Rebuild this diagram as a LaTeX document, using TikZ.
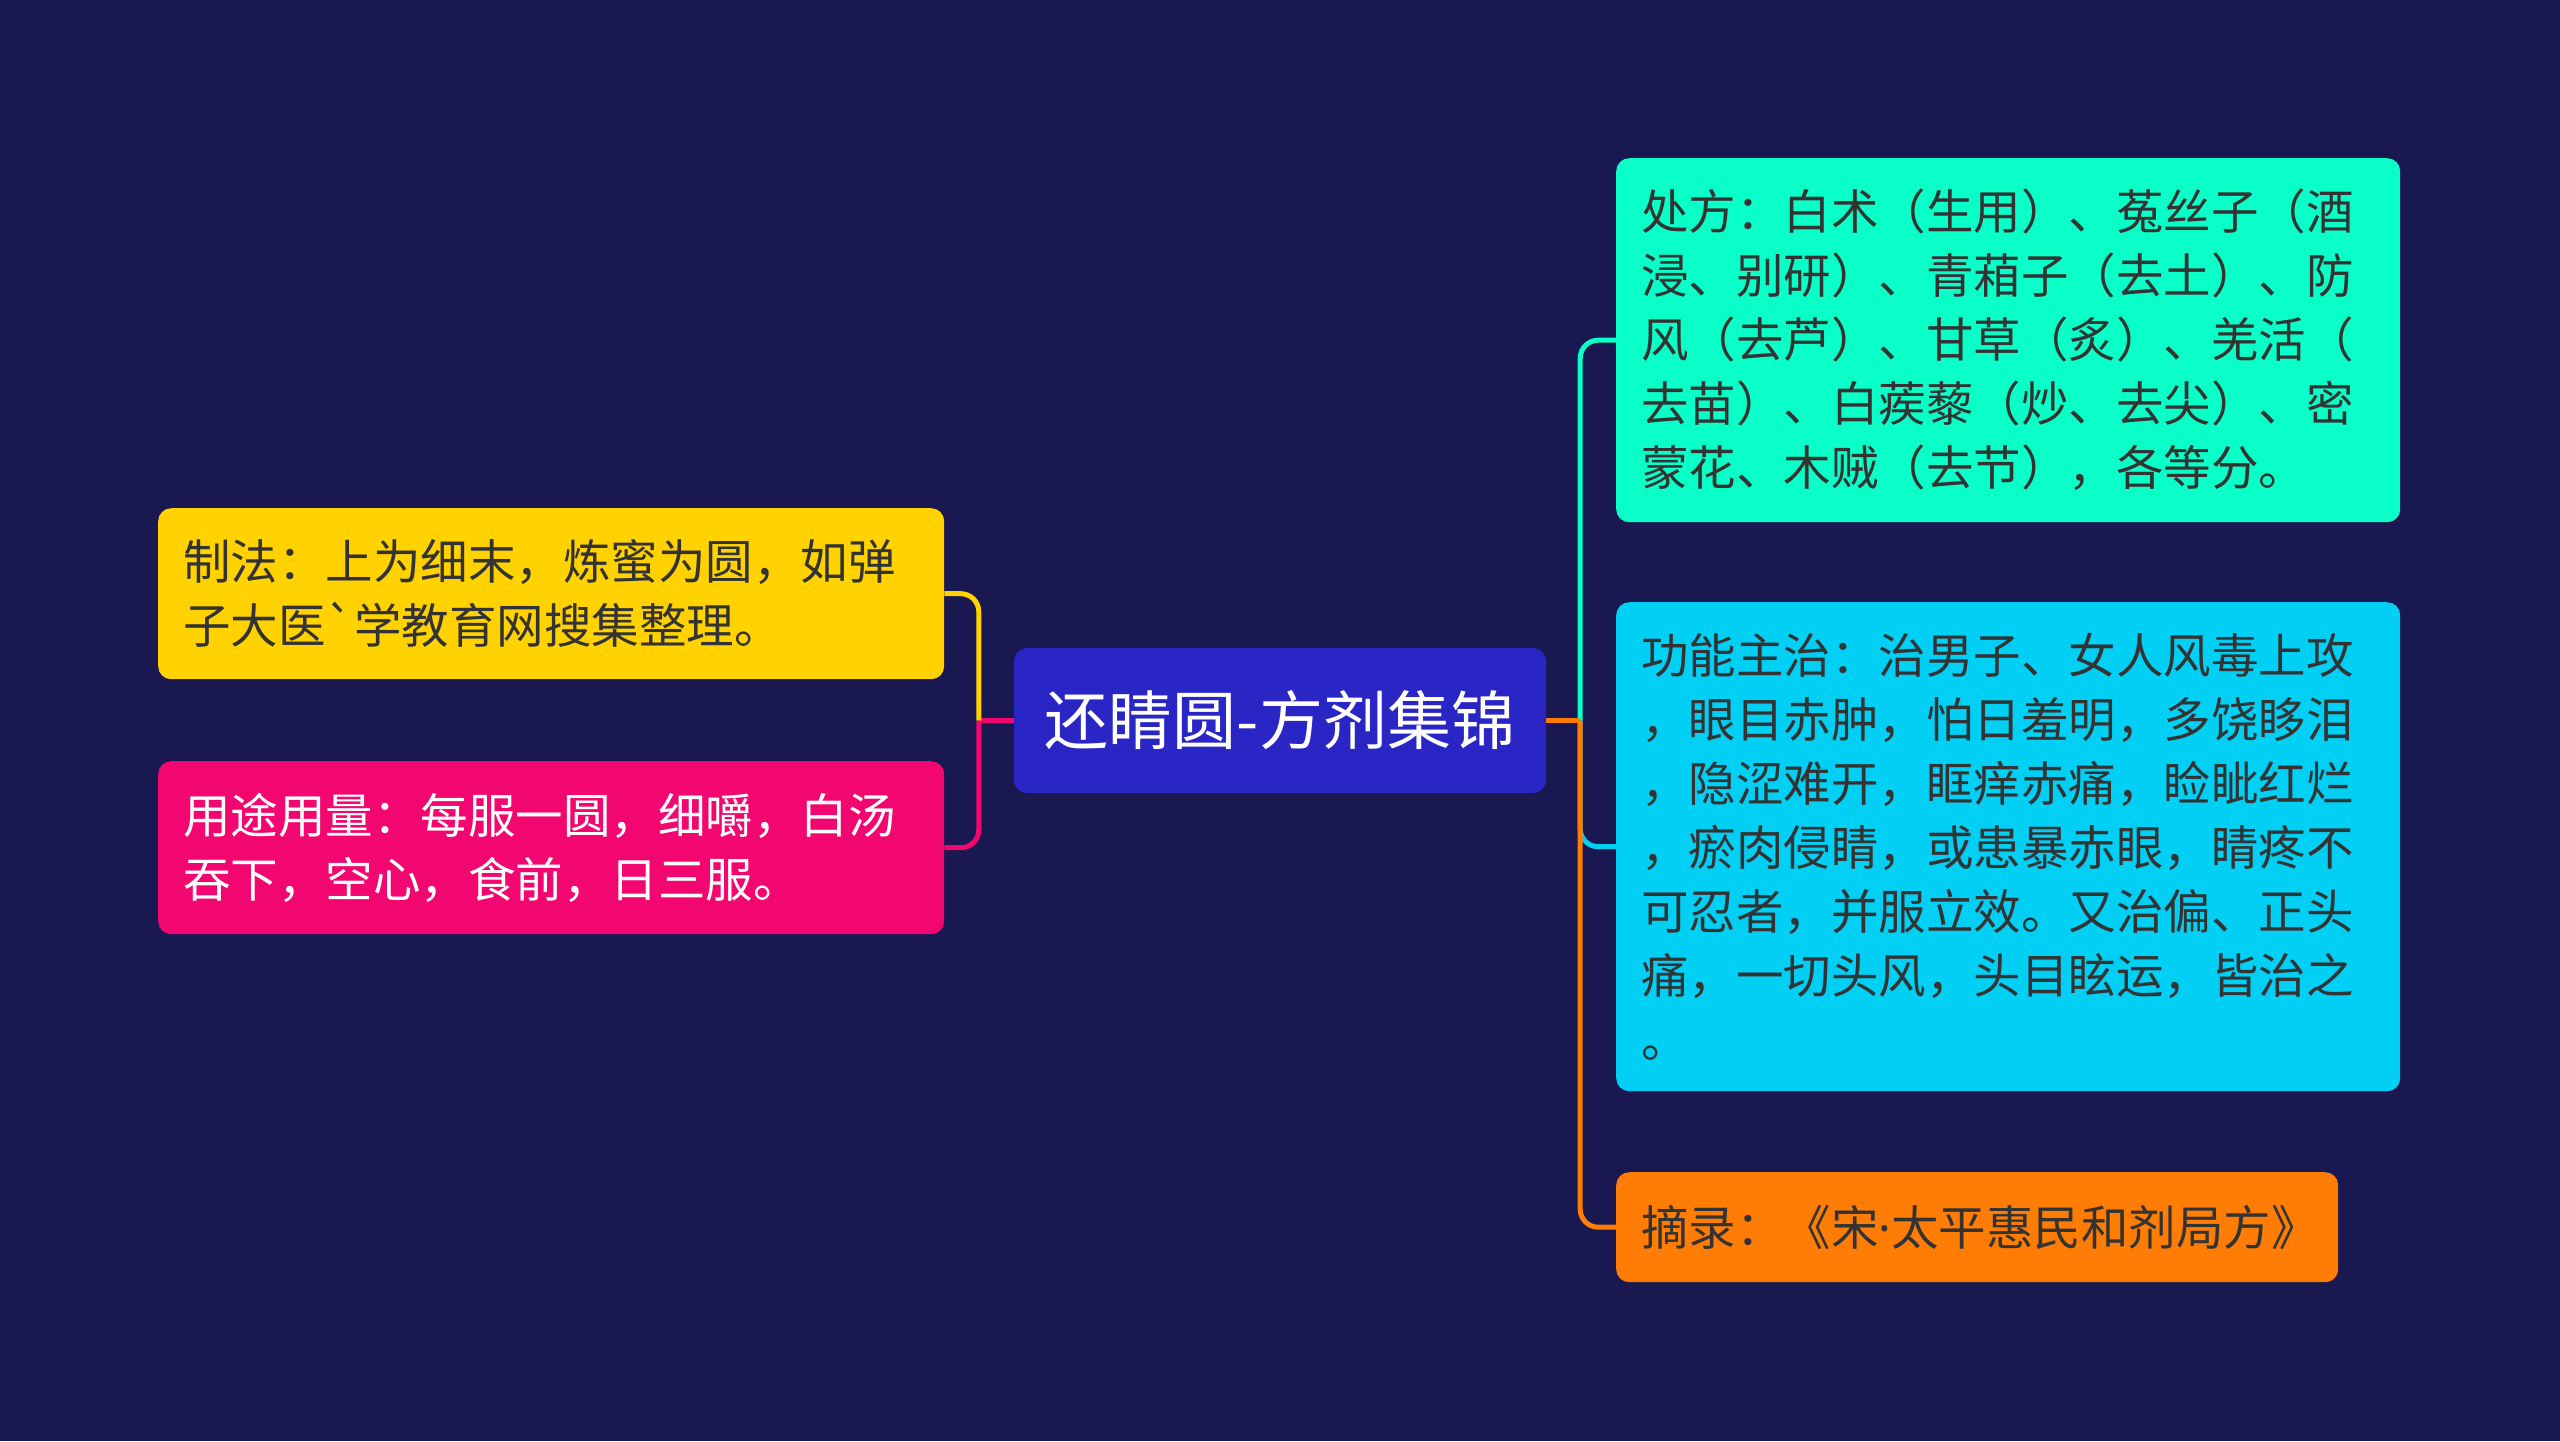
\documentclass[tikz,border=0pt]{standalone}
\usepackage{fontspec}
\setmainfont{Noto Sans CJK SC}
\newfontfamily\latinfont{Noto Sans}
\usetikzlibrary{positioning,calc}
\definecolor{bg}{HTML}{1A1850}
\definecolor{rootfill}{HTML}{2A26C6}
\definecolor{gold}{HTML}{FFD200}
\definecolor{rose}{HTML}{F2066F}
\definecolor{mint}{HTML}{09FFC7}
\definecolor{sky}{HTML}{02CFF4}
\definecolor{amber}{HTML}{FF7D04}
\definecolor{ink}{HTML}{333333}
\tikzset{
  root/.style={fill=rootfill,rounded corners=13pt,minimum width=532pt,minimum height=145pt,
    text=white,font=\fontsize{64}{72}\selectfont,inner sep=0pt},
  leaf/.style={rounded corners=13pt,anchor=north west,align=left,inner xsep=25pt,inner ysep=0pt,
    text=ink,font=\fontsize{47.5}{64}\selectfont},
  branch/.style={line width=5pt,rounded corners=18pt},
}

\begin{document}
\begin{tikzpicture}[x=1pt,y=-1pt]
\fill[bg] (0,0) rectangle (2560,1441);
\useasboundingbox (0,0) rectangle (2560,1441);

% --- root
\node[root] (root) at (1280,720.5) {还睛圆-方剂集锦};

% --- left side
\node[leaf,fill=gold,text width=736pt,minimum height=171pt] (zhifa) at (158,508)
{制法：上为细末，炼蜜为圆，如弹\\子大医\textasciigrave 学教育网搜集整理。};
\node[leaf,fill=rose,text=white,text width=736pt,minimum height=173pt] (yongtu) at (158,761)
{用途用量：每服一圆，细嚼，白汤\\吞下，空心，食前，日三服。};

% --- right side
\node[leaf,fill=mint,text width=734pt,minimum height=364pt] (chufang) at (1616,158)
{处方：白术（生用）、菟丝子（酒\\浸、别研）、青葙子（去土）、防\\风（去芦）、甘草（炙）、羌活（\\去苗）、白蒺藜（炒、去尖）、密\\蒙花、木贼（去节），各等分。};
\node[leaf,fill=sky,text width=734pt,minimum height=489pt] (gongneng) at (1616,602)
{功能主治：治男子、女人风毒上攻\\，眼目赤肿，怕日羞明，多饶眵泪\\，隐涩难开，眶痒赤痛，睑眦红烂\\，瘀肉侵睛，或患暴赤眼，睛疼不\\可忍者，并服立效。又治偏、正头\\痛，一切头风，头目眩运，皆治之\\。};
\node[leaf,fill=amber,text width=672pt,minimum height=110pt] (zhailu) at (1616,1172)
{摘录：《宋{\latinfont ·}太平惠民和剂局方》};

% --- connectors
\coordinate[left=35pt of root.west] (lj);
\coordinate[right=34pt of root.east] (rj);
\draw[branch,rose] (root.west) -- (lj);
\draw[branch,gold] (lj) |- (zhifa.east);
\draw[branch,rose] (lj) |- (yongtu.east);
\draw[branch,mint] (rj) |- (chufang.west);
\draw[branch,sky] (rj) |- (gongneng.west);
\draw[branch,amber] (rj) |- (zhailu.west);
\draw[branch,amber] (root.east) -- (rj);

\end{tikzpicture}
\end{document}
